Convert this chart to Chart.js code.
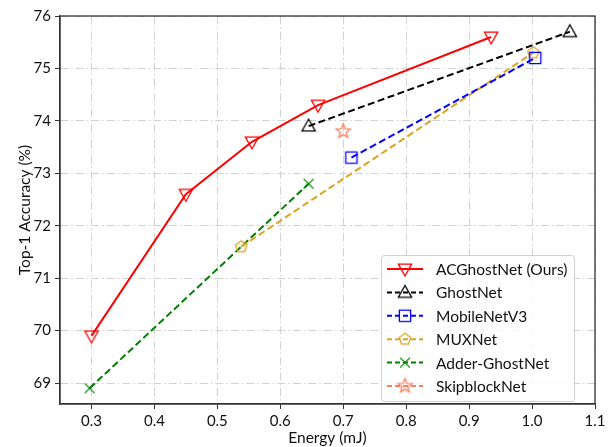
<!DOCTYPE html>
<html>
<head>
<meta charset="utf-8">
<script src="https://cdn.jsdelivr.net/npm/chart.js@4/dist/chart.umd.min.js"></script>
<style>
  html, body { margin: 0; padding: 0; background: #fff; }
  #wrap { width: 613px; height: 447px; position: relative; }
</style>
</head>
<body>
<div id="wrap"><canvas id="c"></canvas></div>
<script>
/* データ */
const xTicks = [0.3, 0.4, 0.5, 0.6, 0.7, 0.8, 0.9, 1.0, 1.1];
const yTicks = [69, 70, 71, 72, 73, 74, 75, 76];

const acEnergy = [0.30, 0.45, 0.555, 0.66, 0.935];
const acAcc    = [69.9, 72.6, 73.6, 74.3, 75.6];
const ghostEnergy = [0.645, 1.06];
const ghostAcc    = [73.9, 75.7];
const mobileEnergy = [0.713, 1.005];
const mobileAcc    = [73.3, 75.2];
const muxEnergy = [0.538, 1.002];
const muxAcc    = [71.6, 75.3];
const adderEnergy = [0.297, 0.645];
const adderAcc    = [68.9, 72.8];
const skipEnergy = [0.70];
const skipAcc    = [73.8];

const FONT = 'Lato, "Open Sans", sans-serif';

/* ===== マーカー画像 ===== */
function makeMarker(shape, color, size) {
  const c = document.createElement('canvas');
  c.width = size + 4; c.height = size + 4;
  const g = c.getContext('2d');
  const cx = c.width / 2, cy = c.height / 2, r = size / 2;
  g.strokeStyle = color;
  g.lineWidth = 1.3;
  g.beginPath();
  if (shape === 'triDown' || shape === 'triUp') {
    const s = shape === 'triDown' ? -1 : 1;
    g.moveTo(cx, cy - s * r);
    g.lineTo(cx + r * 0.95, cy + s * r * 0.7);
    g.lineTo(cx - r * 0.95, cy + s * r * 0.7);
    g.closePath();
  } else if (shape === 'square') {
    const h = r * 0.8;
    g.rect(cx - h, cy - h, 2 * h, 2 * h);
  } else if (shape === 'pentagon') {
    for (let i = 0; i < 5; i++) {
      const a = -Math.PI / 2 + i * 2 * Math.PI / 5;
      const px = cx + r * 0.85 * Math.cos(a), py = cy + r * 0.85 * Math.sin(a);
      i ? g.lineTo(px, py) : g.moveTo(px, py);
    }
    g.closePath();
  } else if (shape === 'x') {
    const h = r * 0.7;
    g.moveTo(cx - h, cy - h); g.lineTo(cx + h, cy + h);
    g.moveTo(cx + h, cy - h); g.lineTo(cx - h, cy + h);
  } else if (shape === 'star') {
    for (let i = 0; i < 10; i++) {
      const a = -Math.PI / 2 + i * Math.PI / 5;
      const rr = i % 2 ? r * 0.42 : r;
      const px = cx + rr * Math.cos(a), py = cy + rr * Math.sin(a);
      i ? g.lineTo(px, py) : g.moveTo(px, py);
    }
    g.closePath();
  }
  g.stroke();
  return c;
}

function pts(xs, ys) { return xs.map((x, i) => ({ x, y: ys[i] })); }

function series(label, xs, ys, color, shape, dash, size) {
  const m = makeMarker(shape, color, size || 14);
  return {
    label, data: pts(xs, ys),
    borderColor: color, backgroundColor: color,
    borderWidth: 2, borderDash: dash,
    pointStyle: m, pointRadius: 7, pointHoverRadius: 7,
    showLine: true, tension: 0,
    _marker: m,
  };
}

const DASH = [7, 3.5];
const datasets = [
  series('ACGhostNet (Ours)', acEnergy, acAcc, '#ff0000', 'triDown', []),
  series('GhostNet', ghostEnergy, ghostAcc, '#000000', 'triUp', DASH),
  series('MobileNetV3', mobileEnergy, mobileAcc, '#0000ff', 'square', DASH),
  series('MUXNet', muxEnergy, muxAcc, '#daa520', 'pentagon', DASH),
  series('Adder-GhostNet', adderEnergy, adderAcc, '#008000', 'x', DASH),
  series('SkipblockNet', skipEnergy, skipAcc, '#fa8060', 'star', DASH, 15),
];

/* ===== 枠と凡例 ===== */
const framePlugin = {
  id: 'frame',
  afterDatasetsDraw(chart) {
    const { ctx, chartArea: a } = chart;
    ctx.save();
    ctx.strokeStyle = '#333';
    ctx.lineWidth = 1.3;
    ctx.strokeRect(a.left, a.top, a.right - a.left, a.bottom - a.top);
    ctx.restore();
  },
  afterDraw(chart) {
    const { ctx } = chart;
    const bx = 381, by = 255, bw = 193, bh = 146, step = 23.4;
    ctx.save();
    ctx.fillStyle = 'rgba(255,255,255,0.85)';
    ctx.strokeStyle = '#d0d0d0';
    ctx.lineWidth = 1;
    ctx.beginPath();
    ctx.roundRect(bx + 0.5, by + 0.5, bw, bh, 3);
    ctx.fill(); ctx.stroke();
    chart.data.datasets.forEach((d, i) => {
      const y = by + 14 + i * step;
      ctx.strokeStyle = d.borderColor;
      ctx.lineWidth = 2;
      ctx.setLineDash(d.borderDash.length ? [5, 3] : []);
      ctx.beginPath(); ctx.moveTo(387, y); ctx.lineTo(423, y); ctx.stroke();
      ctx.setLineDash([]);
      const m = d._marker;
      ctx.drawImage(m, 405 - m.width / 2, y - m.height / 2);
      ctx.fillStyle = '#111';
      ctx.font = '15.5px ' + FONT;
      ctx.textBaseline = 'middle';
      ctx.fillText(d.label, 436, y + 1);
    });
    ctx.restore();
  },
};

const gridOpts = {
  color: '#d2d2d2', lineWidth: 1,
  tickLength: 5, tickColor: '#333', tickWidth: 1,
};

new Chart(document.getElementById('c'), {
  type: 'scatter',
  data: { datasets },
  plugins: [framePlugin],
  options: {
    responsive: true, maintainAspectRatio: false, animation: false,
    layout: { padding: { top: 16, right: 18, left: 0, bottom: 0 } },
    plugins: { legend: { display: false }, tooltip: { enabled: false } },
    scales: {
      x: {
        type: 'linear', min: 0.25, max: 1.1,
        afterBuildTicks: s => { s.ticks = xTicks.map(v => ({ value: v })); },
        afterFit: s => { s.height = 43; },
        grid: { ...gridOpts },
        border: { display: true, color: '#333', width: 1.3, dash: [8, 3, 1.5, 3] },
        ticks: { color: '#111', font: { family: FONT, size: 15 }, padding: 3,
                 maxRotation: 0, callback: v => v.toFixed(1) },
        title: { display: true, text: 'Energy (mJ)', color: '#111',
                 font: { family: FONT, size: 15.5 }, padding: { top: 0, bottom: 0 } },
      },
      y: {
        type: 'linear', min: 68.6, max: 76,
        afterBuildTicks: s => { s.ticks = yTicks.map(v => ({ value: v })); },
        afterFit: s => { s.width = 60; },
        grid: { ...gridOpts },
        border: { display: true, color: '#333', width: 1.3, dash: [8, 3, 1.5, 3] },
        ticks: { color: '#111', font: { family: FONT, size: 15 }, padding: 4 },
        title: { display: true, text: 'Top-1 Accuracy (%)', color: '#111',
                 font: { family: FONT, size: 15.5 }, padding: { top: 16, bottom: 0 } },
      },
    },
  },
});
</script>
</body>
</html>
